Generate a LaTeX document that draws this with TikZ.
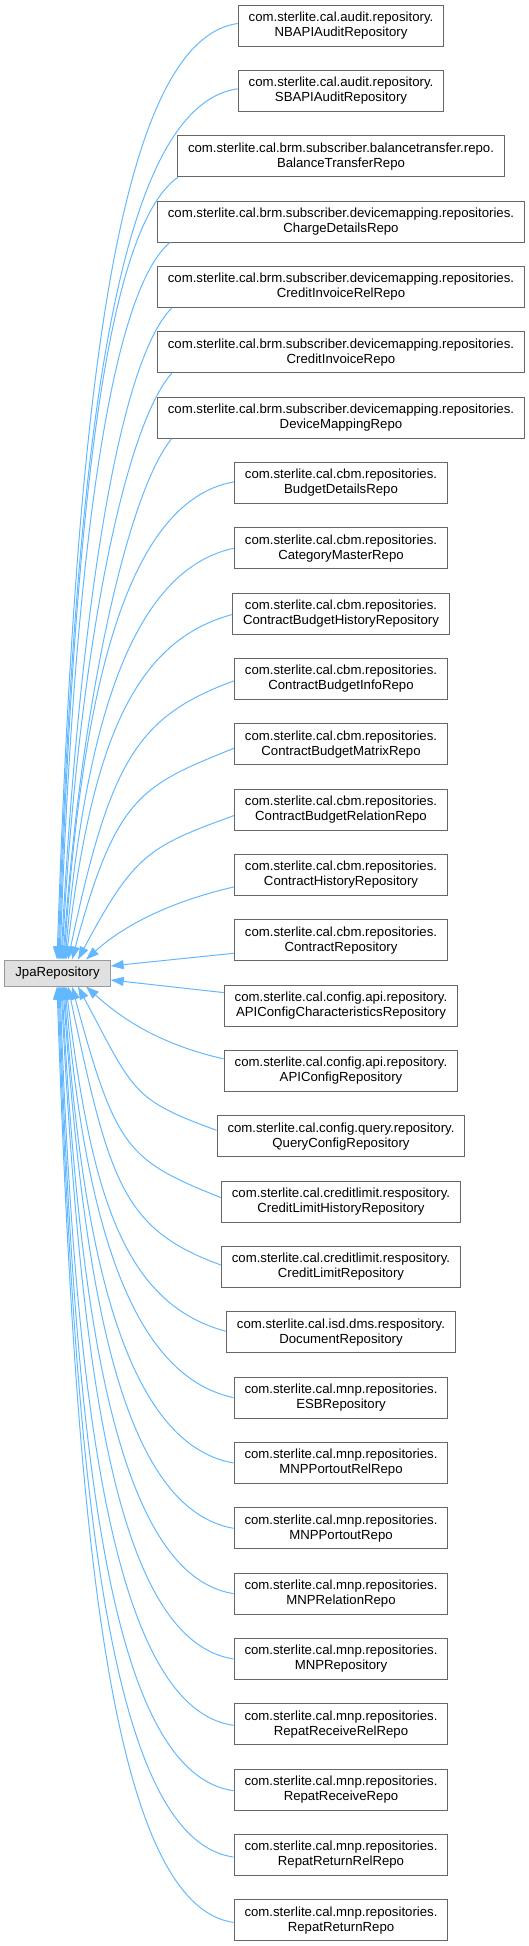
\documentclass[tikz,border=0pt]{standalone}
\usepackage{fontspec}
\setsansfont{Liberation Sans}
\usetikzlibrary{positioning,arrows.meta}
\definecolor{edgeblue}{HTML}{63B8FF}
\definecolor{boxline}{HTML}{666666}
\definecolor{basegray}{HTML}{999999}
\definecolor{basefill}{HTML}{E0E0E0}
\begin{document}
\begin{tikzpicture}[
    x=1pt, y=1pt,
    node distance=65.34pt,
    box/.style={rectangle, draw=boxline, fill=white, line width=1pt, minimum height=41pt, inner xsep=10.5pt, inner ysep=0pt, align=center, font=\sffamily\fontsize{13.2}{15}\selectfont},
    basebox/.style={box, draw=basegray, fill=basefill, minimum height=26pt},
    arrow/.style={<-, draw=edgeblue, line width=1pt, >={Triangle[length=13pt, width=9pt]}}
]
    \useasboundingbox (0,0) rectangle (529,-1946);
    \node[basebox] (jpa) at (57.5,-973) {JpaRepository};

    \node[box] (nbapi) at (341,-25.5) {com.sterlite.cal.audit.repository.\\NBAPIAuditRepository};
    \node[box, below of=nbapi] (sbapi) {com.sterlite.cal.audit.repository.\\SBAPIAuditRepository};
    \node[box, below of=sbapi] (balance) {com.sterlite.cal.brm.subscriber.balancetransfer.repo.\\BalanceTransferRepo};
    \node[box, below of=balance] (charge) {com.sterlite.cal.brm.subscriber.devicemapping.repositories.\\ChargeDetailsRepo};
    \node[box, below of=charge] (creditrel) {com.sterlite.cal.brm.subscriber.devicemapping.repositories.\\CreditInvoiceRelRepo};
    \node[box, below of=creditrel] (creditinv) {com.sterlite.cal.brm.subscriber.devicemapping.repositories.\\CreditInvoiceRepo};
    \node[box, below of=creditinv] (devmap) {com.sterlite.cal.brm.subscriber.devicemapping.repositories.\\DeviceMappingRepo};
    \node[box, below of=devmap] (budget) {com.sterlite.cal.cbm.repositories.\\BudgetDetailsRepo};
    \node[box, below of=budget] (category) {com.sterlite.cal.cbm.repositories.\\CategoryMasterRepo};
    \node[box, below of=category] (cbhistory) {com.sterlite.cal.cbm.repositories.\\ContractBudgetHistoryRepository};
    \node[box, below of=cbhistory] (cbinfo) {com.sterlite.cal.cbm.repositories.\\ContractBudgetInfoRepo};
    \node[box, below of=cbinfo] (cbmatrix) {com.sterlite.cal.cbm.repositories.\\ContractBudgetMatrixRepo};
    \node[box, below of=cbmatrix] (cbrelation) {com.sterlite.cal.cbm.repositories.\\ContractBudgetRelationRepo};
    \node[box, below of=cbrelation] (chistory) {com.sterlite.cal.cbm.repositories.\\ContractHistoryRepository};
    \node[box, below of=chistory] (contract) {com.sterlite.cal.cbm.repositories.\\ContractRepository};
    \node[box, below of=contract] (apichar) {com.sterlite.cal.config.api.repository.\\APIConfigCharacteristicsRepository};
    \node[box, below of=apichar] (apiconf) {com.sterlite.cal.config.api.repository.\\APIConfigRepository};
    \node[box, below of=apiconf] (queryconf) {com.sterlite.cal.config.query.repository.\\QueryConfigRepository};
    \node[box, below of=queryconf] (clhistory) {com.sterlite.cal.creditlimit.respository.\\CreditLimitHistoryRepository};
    \node[box, below of=clhistory] (climit) {com.sterlite.cal.creditlimit.respository.\\CreditLimitRepository};
    \node[box, below of=climit] (document) {com.sterlite.cal.isd.dms.respository.\\DocumentRepository};
    \node[box, below of=document] (esb) {com.sterlite.cal.mnp.repositories.\\ESBRepository};
    \node[box, below of=esb] (portoutrel) {com.sterlite.cal.mnp.repositories.\\MNPPortoutRelRepo};
    \node[box, below of=portoutrel] (portout) {com.sterlite.cal.mnp.repositories.\\MNPPortoutRepo};
    \node[box, below of=portout] (mnprel) {com.sterlite.cal.mnp.repositories.\\MNPRelationRepo};
    \node[box, below of=mnprel] (mnp) {com.sterlite.cal.mnp.repositories.\\MNPRepository};
    \node[box, below of=mnp] (receiverel) {com.sterlite.cal.mnp.repositories.\\RepatReceiveRelRepo};
    \node[box, below of=receiverel] (receive) {com.sterlite.cal.mnp.repositories.\\RepatReceiveRepo};
    \node[box, below of=receive] (returnrel) {com.sterlite.cal.mnp.repositories.\\RepatReturnRelRepo};
    \node[box, below of=returnrel] (return) {com.sterlite.cal.mnp.repositories.\\RepatReturnRepo};

    % children above the base class
    \draw[arrow] ([xshift=-0.5pt]jpa.north) to[out=88, in=188, out distance=510pt, in distance=130pt] ([yshift=2pt]nbapi.west);
    \draw[arrow] ([xshift=0.5pt]jpa.north) to[out=88, in=188, out distance=480pt, in distance=130pt] ([yshift=2pt]sbapi.west);
    \draw[arrow] ([xshift=1.5pt]jpa.north) to[out=88, in=215, out distance=440pt, in distance=90pt] ([xshift=1pt]balance.south west);
    \draw[arrow] ([xshift=2.5pt]jpa.north) to[out=88, in=220, out distance=390pt, in distance=80pt] ([xshift=13pt]charge.south west);
    \draw[arrow] ([xshift=3.5pt]jpa.north) to[out=87, in=225, out distance=350pt, in distance=75pt] ([xshift=15pt]creditrel.south west);
    \draw[arrow] ([xshift=4.5pt]jpa.north) to[out=87, in=228, out distance=310pt, in distance=70pt] ([xshift=15pt]creditinv.south west);
    \draw[arrow] ([xshift=5.5pt]jpa.north) to[out=86, in=230, out distance=270pt, in distance=65pt] ([xshift=15pt]devmap.south west);
    \draw[arrow] ([xshift=6.5pt]jpa.north) to[out=86, in=190, out distance=250pt, in distance=115pt] ([yshift=1pt]budget.west);
    \draw[arrow] ([xshift=7.5pt]jpa.north) to[out=85, in=192, out distance=220pt, in distance=110pt] (category.west);
    \draw[arrow] ([xshift=8.5pt]jpa.north) to[out=83, in=195, out distance=200pt, in distance=110pt] ([yshift=-1pt]cbhistory.west);
    \draw[arrow] ([xshift=10.5pt]jpa.north) to[out=78, in=200, out distance=200pt, in distance=105pt] ([yshift=-2pt]cbinfo.west);
    \draw[arrow] ([xshift=14.5pt]jpa.north) to[out=75, in=202, out distance=170pt, in distance=100pt] ([yshift=-4pt]cbmatrix.west);
    \draw[arrow] ([xshift=20.5pt]jpa.north) to[out=62, in=200, out distance=120pt, in distance=90pt] ([yshift=-6pt]cbrelation.west);
    \draw[arrow] ([xshift=28.5pt]jpa.north) to[out=42, in=193, out distance=55pt, in distance=60pt] ([yshift=-12pt]chistory.west);
    \draw[arrow] ([yshift=7pt]jpa.east) -- ([yshift=-13pt]contract.west);

    % children below the base class
    \draw[arrow] ([yshift=-7pt]jpa.east) -- ([yshift=13pt]apichar.west);
    \draw[arrow] ([xshift=28.5pt]jpa.south) to[out=-42, in=167, out distance=55pt, in distance=60pt] ([yshift=12pt]apiconf.west);
    \draw[arrow] ([xshift=20.5pt]jpa.south) to[out=-62, in=160, out distance=120pt, in distance=90pt] ([yshift=6pt]queryconf.west);
    \draw[arrow] ([xshift=14.5pt]jpa.south) to[out=-75, in=158, out distance=170pt, in distance=100pt] ([yshift=4pt]clhistory.west);
    \draw[arrow] ([xshift=10.5pt]jpa.south) to[out=-78, in=160, out distance=200pt, in distance=105pt] ([yshift=2pt]climit.west);
    \draw[arrow] ([xshift=8.5pt]jpa.south) to[out=-83, in=165, out distance=200pt, in distance=110pt] ([yshift=1pt]document.west);
    \draw[arrow] ([xshift=7.5pt]jpa.south) to[out=-85, in=168, out distance=220pt, in distance=110pt] (esb.west);
    \draw[arrow] ([xshift=6.5pt]jpa.south) to[out=-86, in=170, out distance=250pt, in distance=115pt] (portoutrel.west);
    \draw[arrow] ([xshift=5.5pt]jpa.south) to[out=-86, in=170, out distance=280pt, in distance=120pt] (portout.west);
    \draw[arrow] ([xshift=4.5pt]jpa.south) to[out=-87, in=171, out distance=320pt, in distance=120pt] (mnprel.west);
    \draw[arrow] ([xshift=3.5pt]jpa.south) to[out=-87, in=171, out distance=360pt, in distance=125pt] (mnp.west);
    \draw[arrow] ([xshift=2.5pt]jpa.south) to[out=-88, in=172, out distance=400pt, in distance=125pt] ([yshift=-1pt]receiverel.west);
    \draw[arrow] ([xshift=1.5pt]jpa.south) to[out=-88, in=172, out distance=440pt, in distance=130pt] ([yshift=-1pt]receive.west);
    \draw[arrow] ([xshift=0.5pt]jpa.south) to[out=-88, in=172, out distance=480pt, in distance=130pt] ([yshift=-2pt]returnrel.west);
    \draw[arrow] ([xshift=-0.5pt]jpa.south) to[out=-88, in=172, out distance=510pt, in distance=130pt] ([yshift=-2pt]return.west);
\end{tikzpicture}
\end{document}
